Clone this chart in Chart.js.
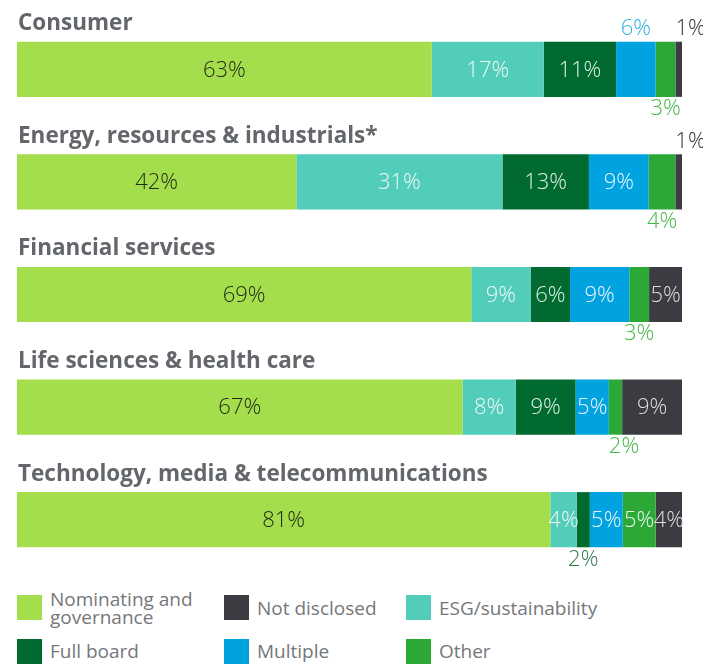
<!DOCTYPE html>
<html lang="en">
<head>
<meta charset="utf-8" />
<title>Board committee by industry</title>
<script src="https://cdn.jsdelivr.net/npm/chart.js@4.4.1/dist/chart.umd.min.js"></script>
<style>
  * { box-sizing: border-box; }
  body { margin: 0; background: #fff; width: 703px; height: 668px; position: relative; overflow: hidden;
    font-family: "Open Sans", "Noto Sans", sans-serif; }
  #wrap { position: absolute; left: 0; top: 0; width: 703px; height: 580px; }
  .legend { position: absolute; left: 0; top: 0; width: 703px; }
  .item { position: absolute; display: flex; align-items: center; color: #75777b; font-size: 19px; line-height: 18px; }
  .sw { width: 25px; height: 25px; flex: none; margin-right: 8px; }
</style>
</head>
<body>
<div id="wrap"><canvas id="chart" width="703" height="580"></canvas></div>
<div class="legend" id="legend"></div>
<script>
// categories and series values (percent of companies per industry)
const categories = [
  'Consumer',
  'Energy, resources & industrials*',
  'Financial services',
  'Life sciences & health care',
  'Technology, media & telecommunications'
];
const seriesNames = ['Nominating and governance', 'ESG/sustainability', 'Full board', 'Multiple', 'Other', 'Not disclosed'];
const nominating = [63, 42, 69, 67, 81];
const esg = [17, 31, 9, 8, 4];
const fullBoard = [11, 13, 6, 9, 2];
const multiple = [6, 9, 9, 5, 5];
const other = [3, 4, 3, 2, 5];
const notDisclosed = [1, 1, 5, 9, 4];

const seriesValues = [nominating, esg, fullBoard, multiple, other, notDisclosed];
const colors = ['#a4de4c', '#52cdba', '#006a30', '#00a3e0', '#2ca836', '#3b3c41'];
const insideText = ['#1f2a16', '#eef8f4', '#dcefe2', '#eaf6fc', '#eef8ee', '#dedede'];
const outsideText = ['#1f2a16', '#52cdba', '#2d7a4b', '#2eb0e4', '#45b649', '#333333'];

// where each value label goes: in the bar, above it or below it (L = start-aligned)
const labelPlace = [
  ['in', 'in', 'in', 'in', 'in'],
  ['in', 'in', 'in', 'in', 'in'],
  ['in', 'in', 'in', 'in', 'below'],
  ['above', 'in', 'in', 'in', 'in'],
  ['below', 'below', 'below', 'belowL', 'in'],
  ['aboveL', 'aboveL', 'in', 'in', 'in']
];
const legendOrder = [0, 5, 1, 2, 3, 4];

const totals = categories.map((c, i) => seriesValues.reduce((s, arr) => s + arr[i], 0));

const datasets = seriesNames.map((name, k) => ({
  label: name,
  data: seriesValues[k].map((v, i) => v / totals[i] * 100),
  backgroundColor: colors[k],
  borderWidth: 0,
  categoryPercentage: 0.49,
  barPercentage: 1
}));

const FONT = '"Open Sans", "Noto Sans", sans-serif';

const titlesPlugin = {
  id: 'titles',
  afterDatasetsDraw(chart) {
    const ctx = chart.ctx;
    const meta = chart.getDatasetMeta(0);
    ctx.save();
    ctx.font = 'bold 22.5px ' + FONT;
    ctx.fillStyle = '#63666a';
    ctx.textAlign = 'left';
    ctx.textBaseline = 'middle';
    meta.data.forEach((bar, i) => {
      ctx.fillText(categories[i], chart.chartArea.left + 1, bar.y - bar.height / 2 - 18);
    });
    ctx.restore();
  }
};

const valueLabels = {
  id: 'valueLabels',
  afterDatasetsDraw(chart) {
    const ctx = chart.ctx;
    ctx.save();
    ctx.font = '300 22px ' + FONT;
    ctx.textBaseline = 'middle';
    chart.data.datasets.forEach((ds, k) => {
      chart.getDatasetMeta(k).data.forEach((bar, i) => {
        const text = seriesValues[k][i] + '%';
        const place = labelPlace[k][i];
        const left = Math.min(bar.x, bar.base);
        const cx = (bar.x + bar.base) / 2;
        const top = bar.y - bar.height / 2;
        const bottom = bar.y + bar.height / 2;
        if (place === 'in') {
          ctx.fillStyle = insideText[k];
          ctx.textAlign = 'center';
          ctx.fillText(text, cx, bar.y + 1);
          return;
        }
        ctx.fillStyle = outsideText[k];
        ctx.textAlign = place.endsWith('L') ? 'left' : 'center';
        const x = place.endsWith('L') ? left : cx;
        const y = place.startsWith('above') ? top - 13 : bottom + 12;
        ctx.fillText(text, x, y);
      });
    });
    ctx.restore();
  }
};

new Chart(document.getElementById('chart'), {
  type: 'bar',
  data: { labels: categories, datasets: datasets },
  options: {
    indexAxis: 'y',
    responsive: false,
    animation: false,
    layout: { padding: { left: 17, right: 21, top: 13, bottom: 4 } },
    plugins: { legend: { display: false }, tooltip: { enabled: false } },
    scales: {
      x: { stacked: true, min: 0, max: 100, display: false },
      y: { stacked: true, display: false }
    }
  },
  plugins: [titlesPlugin, valueLabels]
});

// legend: two rows, three columns
const legendEl = document.getElementById('legend');
const colX = [17, 224, 406];
const rowY = [607.5, 651];
legendOrder.forEach((k, n) => {
  const item = document.createElement('div');
  item.className = 'item';
  item.style.left = colX[n % 3] + 'px';
  item.style.top = (rowY[Math.floor(n / 3)] - 12.5) + 'px';
  item.style.height = '25px';
  const sw = document.createElement('span');
  sw.className = 'sw';
  sw.style.background = colors[k];
  const tx = document.createElement('span');
  tx.textContent = seriesNames[k];
  if (k === 0) tx.style.width = '150px';
  item.appendChild(sw);
  item.appendChild(tx);
  legendEl.appendChild(item);
});
</script>
</body>
</html>
